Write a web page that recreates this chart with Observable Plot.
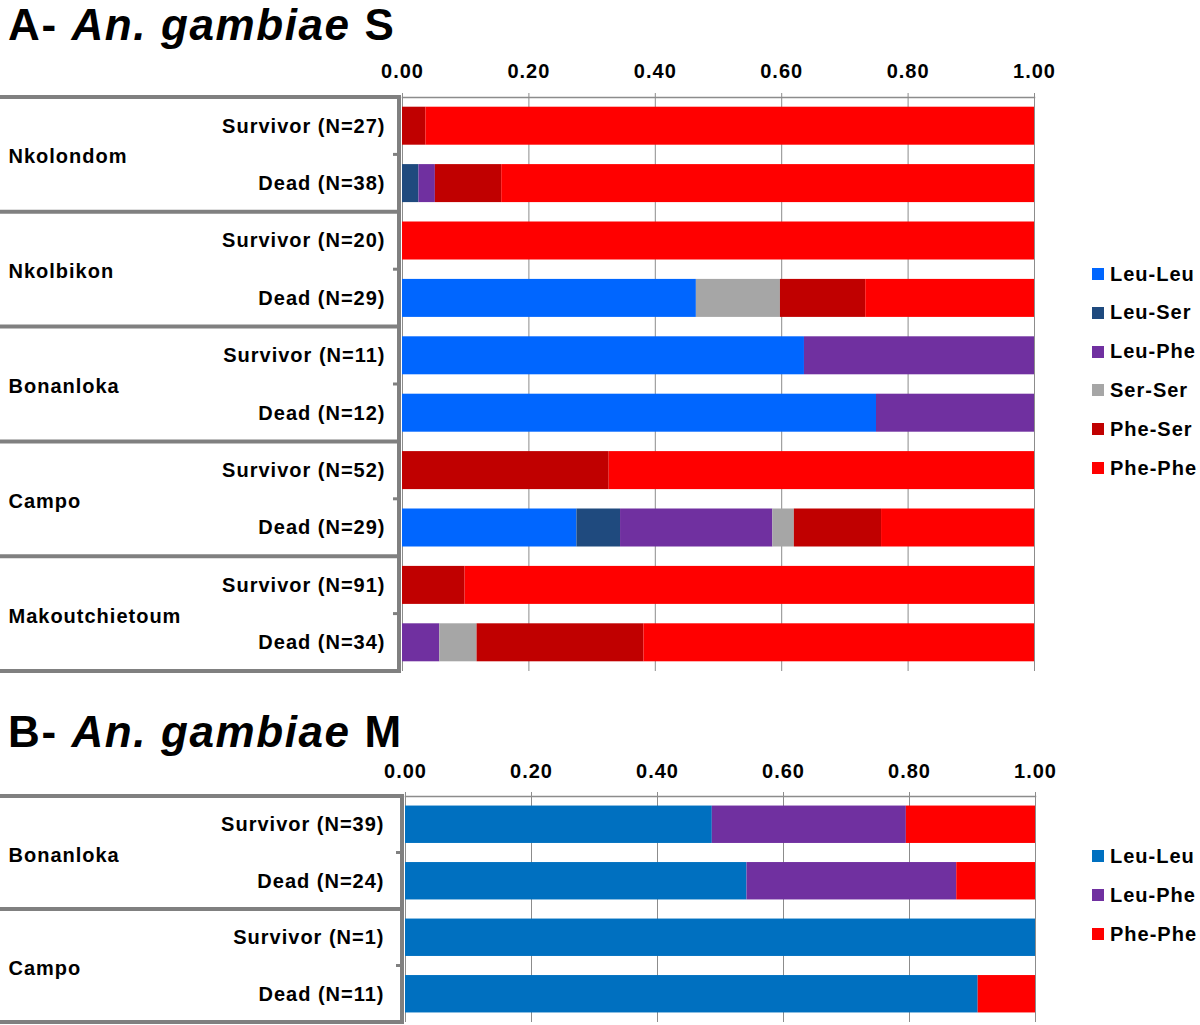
<!DOCTYPE html>
<html>
<head>
<meta charset="utf-8">
<script src="https://cdn.jsdelivr.net/npm/d3@7"></script>
<script src="https://cdn.jsdelivr.net/npm/@observablehq/plot@0.6"></script>
<style>
  body { margin: 0; background: #fff; font-family: "Liberation Sans", Arial, Helvetica, sans-serif; }
  #root { position: relative; width: 1200px; height: 1025px; overflow: hidden; background: #fff; }
  .title { position: absolute; left: 8px; font-size: 44px; line-height: 44px; font-weight: bold; letter-spacing: 1.6px; color: #000; white-space: nowrap; }
  .panel { position: absolute; left: 0; }
  .panel text { letter-spacing: 1px; }
  .item { position: absolute; left: 0; height: 20px; display: flex; align-items: center; white-space: nowrap; font-size: 20px; font-weight: bold; letter-spacing: 1px; color: #000; }
  .sw { width: 12px; height: 12px; margin-right: 6px; flex: none; }
</style>
</head>
<body>
<div id="root">
  <div class="title" style="top:3px">A- <i>An. gambiae</i> S</div>
  <div class="title" style="top:710px">B- <i>An. gambiae</i> M</div>
</div>
<script>
// ---------- Data: panel A (An. gambiae S) ----------
const genotypesA = ["Leu-Leu", "Leu-Ser", "Leu-Phe", "Ser-Ser", "Phe-Ser", "Phe-Phe"];
const colorsA = ["#0066FF", "#1F4A7E", "#7030A0", "#A6A6A6", "#C00000", "#FF0000"];
const sitesA = ["Nkolondom", "Nkolbikon", "Bonanloka", "Campo", "Makoutchietoum"];
const rowLabelsA = ["Survivor (N=27)", "Dead (N=38)", "Survivor (N=20)", "Dead (N=29)",
  "Survivor (N=11)", "Dead (N=12)", "Survivor (N=52)", "Dead (N=29)", "Survivor (N=91)", "Dead (N=34)"];
const leuLeuA = [0, 0, 0, 0.465, 0.636, 0.75, 0, 0.276, 0, 0];
const leuSerA = [0, 0.026, 0, 0, 0, 0, 0, 0.069, 0, 0];
const leuPheA = [0, 0.026, 0, 0, 0.364, 0.25, 0, 0.241, 0, 0.059];
const serSerA = [0, 0, 0, 0.133, 0, 0, 0, 0.034, 0, 0.059];
const pheSerA = [0.037, 0.105, 0, 0.135, 0, 0, 0.327, 0.138, 0.099, 0.264];
const phePheA = [0.963, 0.843, 1, 0.267, 0, 0, 0.673, 0.242, 0.901, 0.618];

// ---------- Data: panel B (An. gambiae M) ----------
const genotypesB = ["Leu-Leu", "Leu-Phe", "Phe-Phe"];
const colorsB = ["#0070C0", "#7030A0", "#FF0000"];
const sitesB = ["Bonanloka", "Campo"];
const rowLabelsB = ["Survivor (N=39)", "Dead (N=24)", "Survivor (N=1)", "Dead (N=11)"];
const leuLeuB = [0.487, 0.542, 1, 0.909];
const leuPheB = [0.308, 0.333, 0, 0];
const phePheB = [0.205, 0.125, 0, 0.091];

// ---------- Axis ticks ----------
const xTicks = [0, 0.2, 0.4, 0.6, 0.8, 1.0];

const FONT = '"Liberation Sans", Arial, Helvetica, sans-serif';

function makePanel(cfg) {
  const { sites, labels, genotypes, colors, series, top, height, marginTop, marginLeft, marginRight, marginBottom, groupDy, xPad, yPad } = cfg;
  const ids = labels.map((l, i) => sites[Math.floor(i / 2)] + "|" + l);
  const data = [];
  genotypes.forEach((g, gi) => series[gi].forEach((v, ri) => data.push({ id: ids[ri], genotype: g, value: v })));
  const groups = sites.map((s, k) => ({ site: s, first: ids[2 * k] }));
  const step = (height - marginTop - marginBottom) / ids.length;

  const plot = Plot.plot({
    width: 1200,
    height, marginTop, marginLeft, marginRight, marginBottom,
    style: { fontFamily: FONT, overflow: "visible", background: "transparent", color: "#000" },
    x: { domain: [0, 1], label: null },
    y: { domain: ids, paddingInner: 0.338, paddingOuter: 0.169, round: false, label: null },
    color: { domain: genotypes, range: colors },
    marks: [
      Plot.gridX(xTicks, { stroke: "#8c8c8c", strokeOpacity: 1, strokeWidth: 1 }),
      Plot.barX(data, Plot.stackX({ x: "value", y: "id", fill: "genotype", order: genotypes })),
      Plot.frame({ anchor: "top", stroke: "#8c8c8c", strokeWidth: 1.5 }),
      Plot.axisX(xTicks, {
        anchor: "top", tickSize: 5, tickPadding: xPad, stroke: "#8c8c8c", label: null,
        tickFormat: d3.format(".2f"), fontSize: 20, fontWeight: "bold", fill: "#000"
      }),
      Plot.axisY({
        tickSize: 0, tickPadding: yPad, tickFormat: (d) => d.split("|")[1], label: null,
        fontSize: 20, fontWeight: "bold", fill: "#000"
      }),
      Plot.text(groups, {
        x: () => 0, y: "first", text: "site", textAnchor: "start",
        dx: -(marginLeft - 8), dy: step / 2 + groupDy,
        fontSize: 20, fontWeight: "bold", fill: "#000", lineAnchor: "middle"
      })
    ]
  });

  // Table-like category frame on the left, positioned via the plot's y scale
  const ys = plot.scale("y");
  const bw = ys.bandwidth, st = ys.step, gap = (st - bw) / 2;
  const g = d3.select(plot).append("g").attr("stroke", "#808080").attr("fill", "none");
  const xv = marginLeft - 3;
  let yTop = null, yBot = null;
  sites.forEach((s, k) => {
    const y0 = ys.apply(ids[2 * k]) - gap;
    const y1 = ys.apply(ids[2 * k + 1]) + bw + gap;
    const mid = (ys.apply(ids[2 * k]) + bw + ys.apply(ids[2 * k + 1])) / 2;
    if (yTop === null) yTop = y0;
    yBot = y1;
    g.append("line").attr("x1", 0).attr("x2", xv + 2).attr("y1", y0).attr("y2", y0).attr("stroke-width", 4);
    g.append("line").attr("x1", xv - 6).attr("x2", xv).attr("y1", mid).attr("y2", mid).attr("stroke-width", 3);
  });
  g.append("line").attr("x1", 0).attr("x2", xv + 2).attr("y1", yBot).attr("y2", yBot).attr("stroke-width", 4);
  g.append("line").attr("x1", xv).attr("x2", xv).attr("y1", yTop - 2).attr("y2", yBot + 2).attr("stroke-width", 4);

  const wrap = document.createElement("div");
  wrap.className = "panel";
  wrap.style.top = top + "px";
  wrap.appendChild(plot);
  document.getElementById("root").appendChild(wrap);
}

function makeLegend(genotypes, colors, firstCenter, spacing) {
  const root = document.getElementById("root");
  genotypes.forEach((g, i) => {
    const it = document.createElement("div");
    it.className = "item";
    it.style.left = "1092px";
    it.style.top = (firstCenter + i * spacing - 10) + "px";
    const sw = document.createElement("span");
    sw.className = "sw";
    sw.style.background = colors[i];
    const tx = document.createElement("span");
    tx.textContent = g;
    it.appendChild(sw);
    it.appendChild(tx);
    root.appendChild(it);
  });
}

makePanel({
  sites: sitesA, labels: rowLabelsA, genotypes: genotypesA, colors: colorsA,
  series: [leuLeuA, leuSerA, leuPheA, serSerA, pheSerA, phePheA],
  top: 0, height: 675, marginTop: 97, marginBottom: 4, marginLeft: 402, marginRight: 166,
  groupDy: 2, xPad: 15, yPad: 17
});
makePanel({
  sites: sitesB, labels: rowLabelsB, genotypes: genotypesB, colors: colorsB,
  series: [leuLeuB, leuPheB, phePheB],
  top: 700, height: 325, marginTop: 96, marginBottom: 3, marginLeft: 405, marginRight: 165,
  groupDy: 3, xPad: 14, yPad: 21
});
makeLegend(genotypesA, colorsA, 274, 38.8);
makeLegend(genotypesB, colorsB, 856, 39);
</script>
</body>
</html>
